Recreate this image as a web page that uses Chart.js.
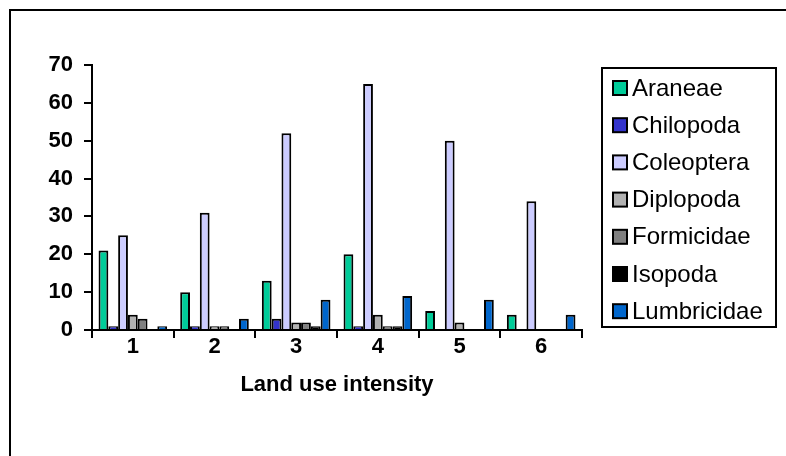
<!DOCTYPE html>
<html>
<head>
<meta charset="utf-8">
<script src="https://cdn.jsdelivr.net/npm/chart.js@4.4.1/dist/chart.umd.min.js"></script>
<style>
  html, body { margin: 0; padding: 0; background: #ffffff; }
  canvas { display: block; }
</style>
</head>
<body>
<canvas id="chart" width="786" height="456"></canvas>
<script>
// Land use intensity classes (x axis)
const categories = ['1', '2', '3', '4', '5', '6'];

// Taxon names, one series each
const taxa = ['Araneae', 'Chilopoda', 'Coleoptera', 'Diplopoda', 'Formicidae', 'Isopoda', 'Lumbricidae'];

// Counts per land use intensity class
const araneae     = [21, 10, 13, 20,  5,  4];
const chilopoda   = [ 1,  1,  3,  1,  0,  0];
const coleoptera  = [25, 31, 52, 65, 50, 34];
const diplopoda   = [ 4,  1,  2,  4,  2,  0];
const formicidae  = [ 3,  1,  2,  1,  0,  0];
const isopoda     = [ 0,  0,  1,  1,  0,  0];
const lumbricidae = [ 1,  3,  8,  9,  8,  4];

// Y axis tick values
const yTicks = [0, 10, 20, 30, 40, 50, 60, 70];

const seriesValues = [araneae, chilopoda, coleoptera, diplopoda, formicidae, isopoda, lumbricidae];
const seriesColours = ['#00CC99', '#3333CC', '#CCCCFF', '#B2B2B2', '#808080', '#000000', '#0066CC'];

const FONT_FAMILY = '"Liberation Sans", Arial, Helvetica, sans-serif';

// White page, outer frame and boxed legend
const framePlugin = {
  id: 'frameAndLegend',
  beforeDraw(chart) {
    const ctx = chart.ctx;
    ctx.save();
    ctx.fillStyle = '#ffffff';
    ctx.fillRect(0, 0, chart.width, chart.height);
    ctx.restore();
  },
  afterDraw(chart) {
    const ctx = chart.ctx;
    ctx.save();
    // outer chart frame (continues past the right and bottom edges)
    ctx.strokeStyle = '#000000';
    ctx.lineWidth = 2;
    ctx.strokeRect(10, 10, 800, 480);

    // legend box
    const bx = 602, by = 68, bw = 174, bh = 259;
    ctx.strokeRect(bx, by, bw, bh);

    const rowStart = 88, rowStep = 37.2;
    ctx.font = '24px ' + FONT_FAMILY;
    ctx.textBaseline = 'middle';
    ctx.textAlign = 'left';
    chart.data.datasets.forEach((ds, i) => {
      const cy = rowStart + i * rowStep;
      ctx.fillStyle = '#000000';
      ctx.fillRect(612, cy - 8, 16, 16);
      ctx.fillStyle = ds.backgroundColor;
      ctx.fillRect(614, cy - 6, 12, 12);
      ctx.fillStyle = '#000000';
      ctx.fillText(ds.label, 632, cy + 1);
    });
    ctx.restore();
  }
};

const datasets = taxa.map((name, i) => ({
  label: name,
  data: seriesValues[i],
  backgroundColor: seriesColours[i],
  borderColor: '#000000',
  borderWidth: 2,
  borderSkipped: 'start'
}));

new Chart(document.getElementById('chart'), {
  type: 'bar',
  data: { labels: categories, datasets },
  options: {
    responsive: false,
    devicePixelRatio: 1,
    animation: false,
    events: [],
    layout: { padding: { left: 10, right: 204, top: 65, bottom: 10 } },
    datasets: { bar: { categoryPercentage: 0.84, barPercentage: 1.0 } },
    plugins: {
      legend: { display: false },
      tooltip: { enabled: false },
      title: { display: false }
    },
    scales: {
      x: {
        afterFit(scale) { scale.height = 116; },
        grid: { offset: true, drawOnChartArea: false, drawTicks: true, tickLength: 8, color: '#000000', lineWidth: 2 },
        border: { display: true, color: '#000000', width: 2 },
        ticks: { color: '#000000', padding: -4, font: { family: FONT_FAMILY, size: 22, weight: 'bold' } },
        title: {
          display: true,
          text: 'Land use intensity',
          color: '#000000',
          font: { family: FONT_FAMILY, size: 22, weight: 'bold' },
          padding: { top: 0, bottom: 47.8 }
        }
      },
      y: {
        min: 0,
        max: 70,
        afterFit(scale) { scale.width = 82; },
        afterBuildTicks(scale) { scale.ticks = yTicks.map(v => ({ value: v })); },
        grid: { drawOnChartArea: false, drawTicks: true, tickLength: 8, color: '#000000', lineWidth: 2 },
        border: { display: true, color: '#000000', width: 2 },
        ticks: { color: '#000000', padding: 11, font: { family: FONT_FAMILY, size: 22, weight: 'bold' } }
      }
    }
  },
  plugins: [framePlugin]
});
</script>
</body>
</html>
